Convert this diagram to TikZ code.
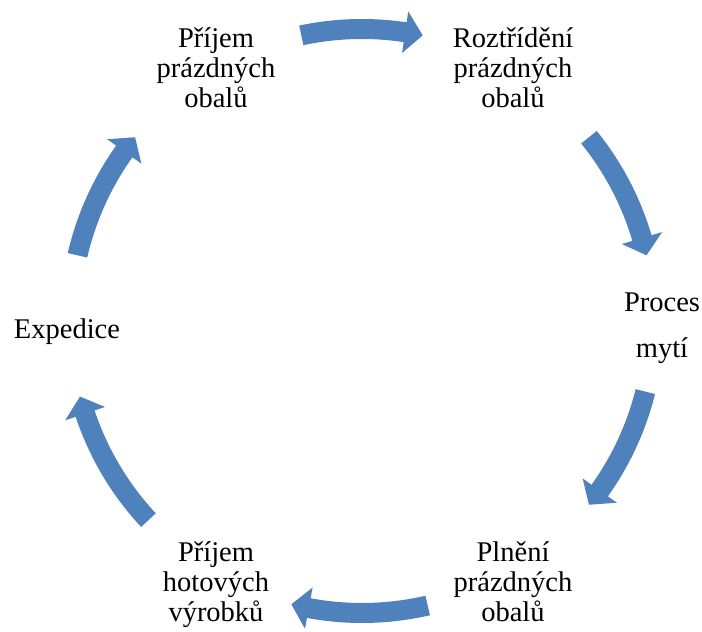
\documentclass[tikz,border=0pt]{standalone}
\usepackage{fontspec}
\setmainfont{Liberation Serif}
\usepackage{tikz}
\definecolor{arrowblue}{HTML}{4F81BD}

% block arrow on the cycle, clockwise from tail angle #1 to tip angle #2
\newcommand{\cyclearrow}[2]{%
  \pgfmathsetmacro{\headang}{#2+3.5}
  \fill[arrowfill] (#1:302pt) arc[start angle=#1, end angle=\headang, radius=302pt]
    -- (\headang:313pt) -- (#2:292pt) -- (\headang:271pt) -- (\headang:282pt)
    arc[start angle=\headang, end angle=#1, radius=282pt] -- cycle;}

\begin{document}
\begin{tikzpicture}[x=1pt,y=1pt,
  stage/.style={align=center,anchor=base,inner sep=0pt,font=\fontsize{28.5}{30}\selectfont},
  arrowfill/.style={fill=arrowblue}]
\useasboundingbox (0,0) rectangle (702,632);
\coordinate (c) at (362,311);
% stages
\node[stage] (s1) at (216,524) {Příjem\\prázdných\\obalů};
\node[stage] (s2) at (513,524) {Roztřídění\\prázdných\\obalů};
\node[stage] (s3) at (662,274) {Proces\\[16pt]mytí};
\node[stage] (s4) at (513,10) {Plnění\\prázdných\\obalů};
\node[stage] (s5) at (216,10) {Příjem\\hotových\\výrobků};
\node[stage] (s6) at (67,293) {Expedice};
% arrows
\begin{scope}[shift={(c)}]
\cyclearrow{102}{78}
\cyclearrow{39}{13}
\cyclearrow{-14}{-39}
\cyclearrow{-77}{-104}
\cyclearrow{-137}{-165}
\cyclearrow{167}{141}
\end{scope}
\end{tikzpicture}
\end{document}
